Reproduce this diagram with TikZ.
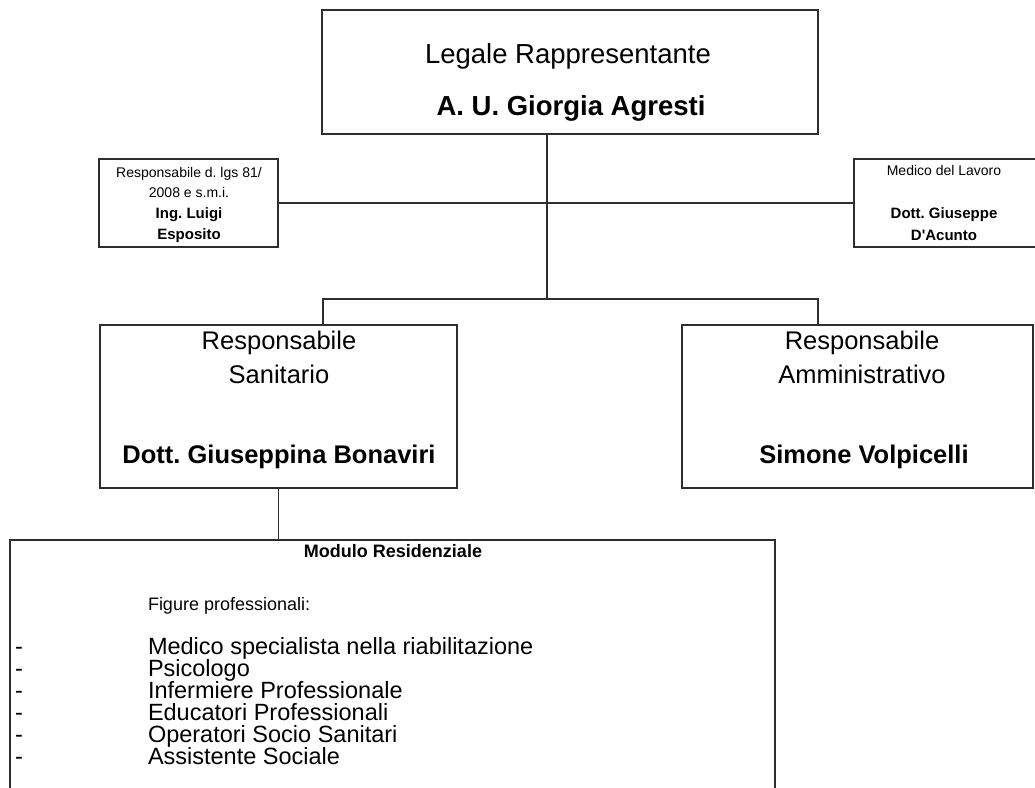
\documentclass[tikz,border=0pt]{standalone}
\usepackage{fontspec}
\setmainfont{Liberation Sans}
\frenchspacing
\newcommand{\fsz}[1]{\fontsize{#1}{#1}\selectfont}
\tikzset{
  box/.style={draw=black!82, line width=1.4pt, inner sep=0pt, outer sep=0pt, anchor=north west, rectangle},
  wire/.style={draw=black!82, line width=1.4pt},
  txt/.style={inner sep=0pt, outer sep=0pt, anchor=base, text=black},
  ltxt/.style={inner sep=0pt, outer sep=0pt, anchor=base west, text=black}
}
\begin{document}
\begin{tikzpicture}[x=1pt,y=-1pt]
\useasboundingbox (0,0) rectangle (1035,787);
% boxes
\node[box, minimum width=496pt, minimum height=124pt] (lr) at (322,10) {};
\node[box, minimum width=179pt, minimum height=88pt] (rs) at (99,159) {};
\node[box, minimum width=195pt, minimum height=88pt] (ml) at (854,159) {};
\node[box, minimum width=357pt, minimum height=163pt] (rsan) at (100,325) {};
\node[box, minimum width=351pt, minimum height=163pt] (ramm) at (682,325) {};
\node[box, minimum width=765pt, minimum height=270pt] (mod) at (10,540) {};
% junction coordinates
\coordinate (j) at (547,299);
\coordinate (bl) at (323,299);
\coordinate (br) at (818,299);
% connectors
\draw[wire] (lr.south -| j) -- (j);
\draw[wire] (rs.east) -- (ml.west);
\draw[wire] (rsan.north -| bl) -- (bl) -- (br) -- (ramm.north -| br);
\draw[wire] (rsan.south) -- (rsan.south |- mod.north);
% texts
\node[txt, font=\fsz{27.5}] (t1) at (568,63) {Legale Rappresentante};
\node[txt, font=\fsz{27.5}\bfseries] (t2) at (571,115) {A. U. Giorgia Agresti};
\node[txt, font=\fsz{14}] (r1) at (189,177) {Responsabile d. lgs 81/};
\node[txt, font=\fsz{14}] (r2) at (189,197) {2008 e s.m.i.};
\node[txt, font=\fsz{15}\bfseries] (r3) at (189,218) {Ing. Luigi};
\node[txt, font=\fsz{15}\bfseries] (r4) at (189,239) {Esposito};
\node[txt, font=\fsz{14}] (m1) at (944,175) {Medico del Lavoro};
\node[txt, font=\fsz{15}\bfseries] (m2) at (944,218) {Dott. Giuseppe};
\node[txt, font=\fsz{15}\bfseries] (m3) at (944,240) {D\textquotesingle Acunto};
\node[txt, font=\fsz{25.5}] (s1) at (279,349) {Responsabile};
\node[txt, font=\fsz{25.5}] (s2) at (279,383) {Sanitario};
\node[txt, font=\fsz{25.5}\bfseries] (s3) at (279,463) {Dott. Giuseppina Bonaviri};
\node[txt, font=\fsz{25.5}] (a1) at (862,349) {Responsabile};
\node[txt, font=\fsz{25.5}] (a2) at (862,383) {Amministrativo};
\node[txt, font=\fsz{25.5}\bfseries] (a3) at (864,463) {Simone Volpicelli};
\node[txt, font=\fsz{18}\bfseries] (mt) at (393,557) {Modulo Residenziale};
\node[ltxt, font=\fsz{18}] (fp) at (148,610) {Figure professionali:};
\foreach \i/\t in {0/Medico specialista nella riabilitazione,1/Psicologo,2/Infermiere Professionale,3/Educatori Professionali,4/Operatori Socio Sanitari,5/Assistente Sociale}{
  \node[ltxt, font=\fsz{23.5}] (it\i) at (148,654+22*\i) {\t};
  \node[ltxt, font=\fsz{23.5}] (d\i) at (15,654+22*\i) {-};
}
\end{tikzpicture}
\end{document}
